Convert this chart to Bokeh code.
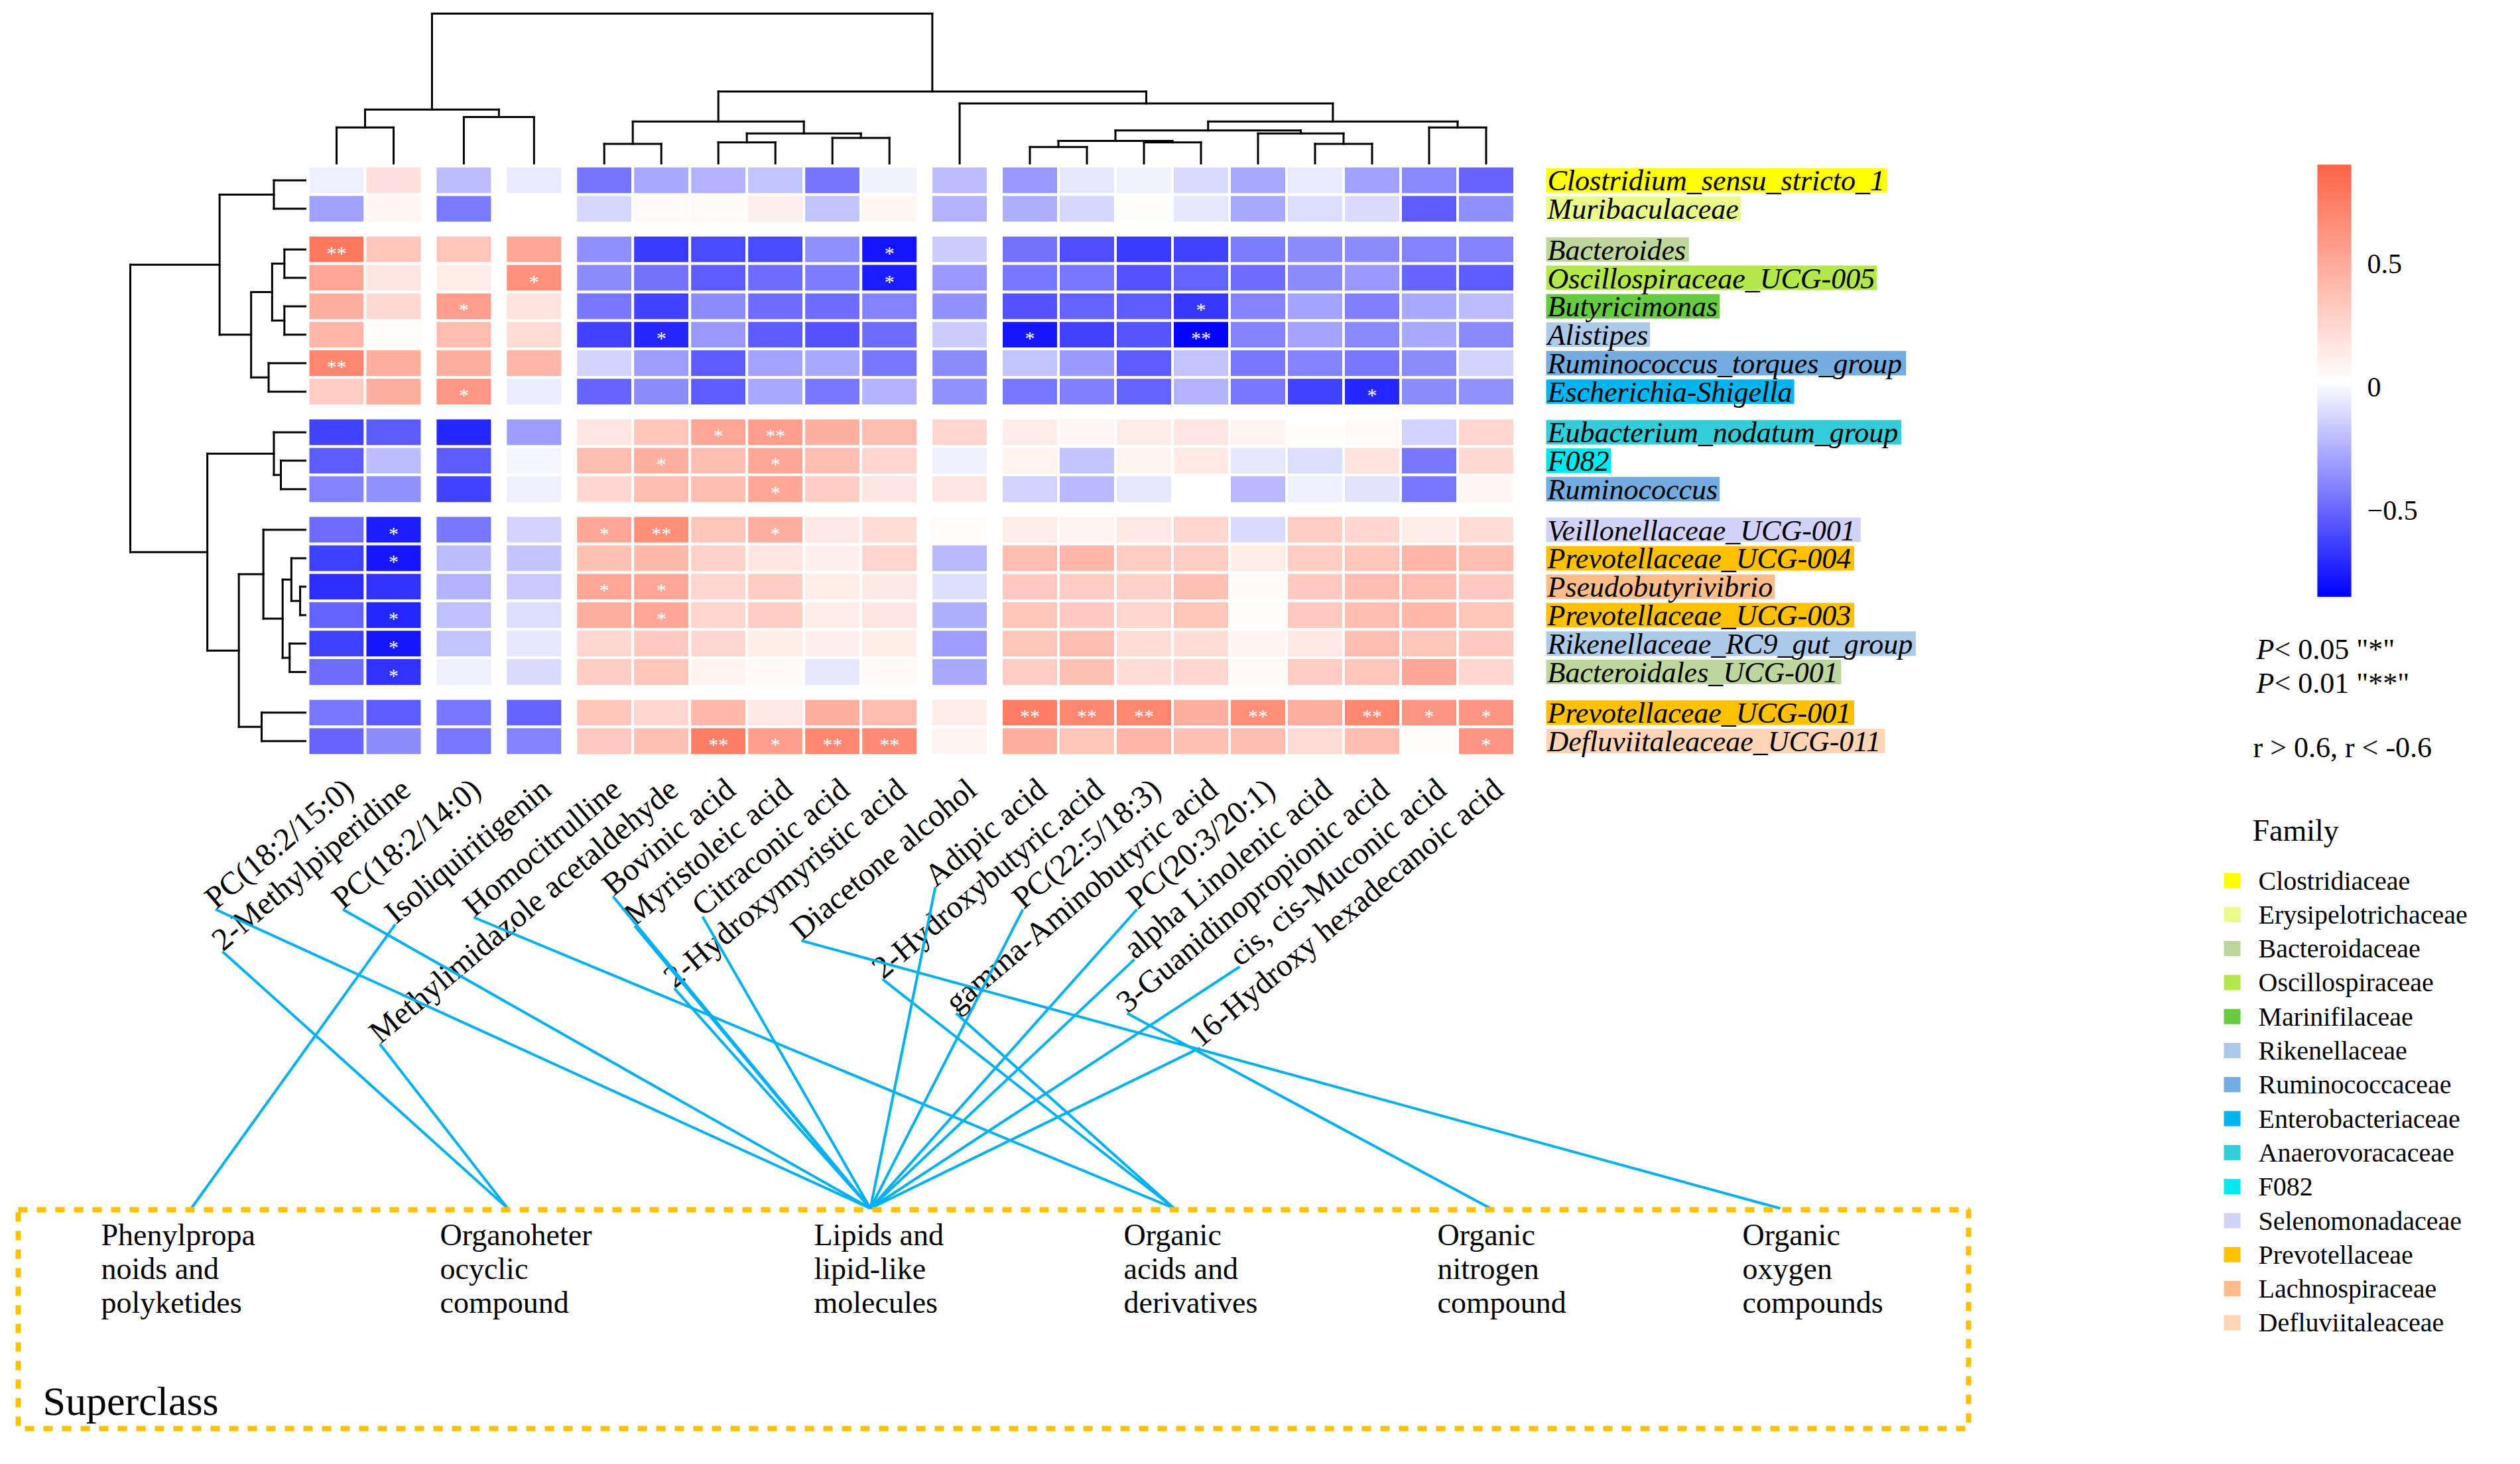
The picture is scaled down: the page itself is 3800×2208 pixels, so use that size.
import math
from bokeh.plotting import figure
from bokeh.models import Range1d
from bokeh.core.properties import value
from bokeh.embed import file_html
from bokeh.resources import INLINE

# ======================= DATA =======================
ROW_NAMES = ["Clostridium_sensu_stricto_1", "Muribaculaceae", "Bacteroides",
             "Oscillospiraceae_UCG-005", "Butyricimonas", "Alistipes",
             "Ruminococcus_torques_group", "Escherichia-Shigella",
             "Eubacterium_nodatum_group", "F082", "Ruminococcus",
             "Veillonellaceae_UCG-001", "Prevotellaceae_UCG-004", "Pseudobutyrivibrio",
             "Prevotellaceae_UCG-003", "Rikenellaceae_RC9_gut_group",
             "Bacteroidales_UCG-001", "Prevotellaceae_UCG-001", "Defluviitaleaceae_UCG-011"]

ROW_FAMILY = ["Clostridiaceae", "Erysipelotrichaceae", "Bacteroidaceae", "Oscillospiraceae",
              "Marinifilaceae", "Rikenellaceae", "Ruminococcaceae", "Enterobacteriaceae",
              "Anaerovoracaceae", "F082", "Ruminococcaceae", "Selenomonadaceae",
              "Prevotellaceae", "Lachnospiraceae", "Prevotellaceae", "Rikenellaceae",
              "Bacteroidaceae", "Prevotellaceae", "Defluviitaleaceae"]

COL_NAMES = ["PC(18:2/15:0)", "2-Methylpiperidine", "PC(18:2/14:0)", "Isoliquiritigenin",
             "Homocitrulline", "Methylimidazole acetaldehyde", "Bovinic acid",
             "Myristoleic acid", "Citraconic acid", "2-Hydroxymyristic acid",
             "Diacetone alcohol", "Adipic acid", "2-Hydroxybutyric.acid", "PC(22:5/18:3)",
             "gamma-Aminobutyric acid", "PC(20:3/20:1)", "alpha Linolenic acid",
             "3-Guanidinopropionic acid", "cis, cis-Muconic acid", "16-Hydroxy hexadecanoic acid"]

SUPERCLASSES = ["Phenylpropa\nnoids and\npolyketides", "Organoheter\nocyclic\ncompound",
                "Lipids and\nlipid-like\nmolecules", "Organic\nacids and\nderivatives",
                "Organic\nnitrogen\ncompound", "Organic\noxygen\ncompounds"]

# index into SUPERCLASSES for each column
COL_SUPERCLASS = [2, 1, 2, 0, 3, 1, 2, 2, 2, 2, 5, 2, 3, 2, 3, 2, 2, 4, 2, 2]

FAMILIES = ["Clostridiaceae", "Erysipelotrichaceae", "Bacteroidaceae", "Oscillospiraceae",
            "Marinifilaceae", "Rikenellaceae", "Ruminococcaceae", "Enterobacteriaceae",
            "Anaerovoracaceae", "F082", "Selenomonadaceae", "Prevotellaceae",
            "Lachnospiraceae", "Defluviitaleaceae"]
FAMILY_COLORS = ["#FFFF00", "#E9F98C", "#BDD69B", "#B2E84A", "#66CC40", "#ACCAE7",
                 "#74ACDF", "#00B6F0", "#33CDD9", "#00E8EF", "#D2D2F9", "#FFC000",
                 "#FFBC8B", "#FFD5B5"]

CORR = [
    [-0.03, 0.20, -0.20, -0.05, -0.45, -0.27, -0.24, -0.18, -0.45, -0.02, -0.20, -0.33, -0.06, -0.02, -0.10, -0.27, -0.05, -0.30, -0.38, -0.50],
    [-0.30, 0.08, -0.43, 0.03, -0.12, 0.06, 0.06, 0.12, -0.18, 0.08, -0.24, -0.25, -0.12, 0.04, -0.06, -0.27, -0.09, -0.10, -0.53, -0.36],
    [0.78, 0.35, 0.35, 0.52, -0.36, -0.65, -0.60, -0.60, -0.36, -0.78, -0.15, -0.46, -0.58, -0.65, -0.62, -0.42, -0.37, -0.37, -0.40, -0.40],
    [0.52, 0.17, 0.13, 0.65, -0.37, -0.46, -0.53, -0.48, -0.42, -0.75, -0.33, -0.44, -0.44, -0.57, -0.51, -0.48, -0.37, -0.33, -0.50, -0.53],
    [0.48, 0.24, 0.57, 0.19, -0.44, -0.62, -0.37, -0.48, -0.48, -0.40, -0.35, -0.57, -0.51, -0.53, -0.66, -0.40, -0.29, -0.41, -0.27, -0.20],
    [0.44, 0.04, 0.40, 0.22, -0.62, -0.72, -0.33, -0.53, -0.57, -0.48, -0.15, -0.77, -0.62, -0.56, -0.84, -0.40, -0.29, -0.38, -0.27, -0.38],
    [0.70, 0.48, 0.48, 0.44, -0.13, -0.31, -0.53, -0.29, -0.27, -0.44, -0.37, -0.18, -0.33, -0.53, -0.18, -0.44, -0.40, -0.44, -0.37, -0.13],
    [0.31, 0.48, 0.61, -0.04, -0.50, -0.37, -0.53, -0.27, -0.44, -0.24, -0.35, -0.44, -0.41, -0.51, -0.24, -0.44, -0.62, -0.72, -0.37, -0.35],
    [-0.62, -0.53, -0.72, -0.31, 0.17, 0.35, 0.52, 0.57, 0.48, 0.40, 0.26, 0.13, 0.07, 0.13, 0.17, 0.10, 0.04, 0.06, -0.13, 0.26],
    [-0.53, -0.20, -0.53, -0.01, 0.40, 0.48, 0.40, 0.52, 0.40, 0.26, -0.03, 0.10, -0.18, 0.09, 0.15, -0.06, -0.09, 0.19, -0.44, 0.24],
    [-0.40, -0.35, -0.62, -0.03, 0.25, 0.40, 0.40, 0.52, 0.31, 0.17, 0.17, -0.13, -0.22, -0.06, 0.03, -0.22, -0.03, -0.07, -0.44, 0.07],
    [-0.48, -0.75, -0.44, -0.13, 0.52, 0.66, 0.35, 0.48, 0.16, 0.22, 0.04, 0.13, 0.10, 0.16, 0.26, -0.10, 0.31, 0.25, 0.13, 0.22],
    [-0.63, -0.77, -0.20, -0.18, 0.37, 0.42, 0.28, 0.17, 0.11, 0.26, -0.22, 0.40, 0.44, 0.31, 0.31, 0.13, 0.31, 0.35, 0.44, 0.40],
    [-0.70, -0.68, -0.24, -0.16, 0.52, 0.52, 0.26, 0.31, 0.13, 0.16, -0.09, 0.33, 0.31, 0.28, 0.37, 0.06, 0.33, 0.40, 0.40, 0.33],
    [-0.51, -0.72, -0.19, -0.09, 0.48, 0.52, 0.26, 0.31, 0.13, 0.17, -0.25, 0.35, 0.33, 0.26, 0.35, 0.04, 0.33, 0.40, 0.42, 0.35],
    [-0.63, -0.77, -0.18, -0.06, 0.26, 0.33, 0.25, 0.13, 0.11, 0.13, -0.31, 0.35, 0.40, 0.22, 0.22, 0.10, 0.16, 0.40, 0.35, 0.33],
    [-0.48, -0.68, -0.03, -0.10, 0.31, 0.35, 0.09, 0.06, -0.06, 0.06, -0.27, 0.31, 0.37, 0.22, 0.26, 0.06, 0.31, 0.35, 0.52, 0.26],
    [-0.44, -0.53, -0.44, -0.51, 0.35, 0.26, 0.42, 0.16, 0.48, 0.40, 0.13, 0.75, 0.70, 0.70, 0.48, 0.66, 0.48, 0.70, 0.62, 0.62],
    [-0.50, -0.37, -0.44, -0.40, 0.33, 0.37, 0.75, 0.57, 0.70, 0.68, 0.10, 0.48, 0.35, 0.44, 0.37, 0.40, 0.22, 0.40, 0.04, 0.62],
]

# (row, column, mark)
SIGNIF = [(2, 0, "**"), (2, 9, "*"), (3, 3, "*"), (3, 9, "*"), (4, 2, "*"), (4, 14, "*"),
          (5, 5, "*"), (5, 11, "*"), (5, 14, "**"), (6, 0, "**"), (7, 2, "*"), (7, 17, "*"),
          (8, 6, "*"), (8, 7, "**"), (9, 5, "*"), (9, 7, "*"), (10, 7, "*"),
          (11, 1, "*"), (11, 4, "*"), (11, 5, "**"), (11, 7, "*"), (12, 1, "*"),
          (13, 4, "*"), (13, 5, "*"), (14, 1, "*"), (14, 5, "*"), (15, 1, "*"), (16, 1, "*"),
          (17, 11, "**"), (17, 12, "**"), (17, 13, "**"), (17, 15, "**"), (17, 17, "**"),
          (17, 18, "*"), (17, 19, "*"),
          (18, 6, "**"), (18, 7, "*"), (18, 8, "**"), (18, 9, "**"), (18, 19, "*")]

# hierarchical clustering trees: (left, right, relative height)
COL_TREE = (((0, 1, 0.24), (2, 3, 0.31), 0.36),
            (((4, 5, 0.13), ((6, 7, 0.14), (8, 9, 0.17), 0.20), 0.28),
             (10, ((((11, 12, 0.11), (13, 14, 0.14), 0.15), (15, (16, 17, 0.13), 0.20), 0.22),
                   (18, 19, 0.24), 0.28), 0.40), 0.48), 1.0)
ROW_TREE = (((0, 1, 0.18), (((2, 3, 0.12), (4, 5, 0.12), 0.19), (6, 7, 0.21), 0.31), 0.49),
            ((8, (9, 10, 0.14), 0.18),
             ((11, ((12, (13, 14, 0.03), 0.08), (15, 16, 0.09), 0.13), 0.24),
              (17, 18, 0.25), 0.38), 0.56), 1.0)

COL_SPLITS = [2, 3, 4, 10, 11]   # gaps after these many columns
ROW_SPLITS = [2, 8, 11, 17]      # gaps after these many rows
COLOR_LIMITS = (-0.85, 0.90)
COLORBAR_TICKS = [0.5, 0.0, -0.5]
COLORBAR_TICK_LABELS = ["0.5", "0", "\u22120.5"]

# ======================= LAYOUT =======================
FONT = "Liberation Serif"
HM_LEFT, HM_TOP = 472.0, 258.0
CELL_W, CELL_H = 86.0, 42.9
GAP_X, GAP_Y = 19.9, 18.4
CDEND_BOTTOM, CDEND_H = 254.0, 226.0
RDEND_RIGHT, RDEND_W = 468.0, 264.0
ROWLAB_X, ROWLAB_FS, ROWLAB_BOX_H = 2341.0, 44, 37.0
COLLAB_FS = 48
COLLAB_ANGLE = math.radians(40)
BOX_L, BOX_T, BOX_R, BOX_B = 35.0, 1832.0, 2976.0, 2162.0
SUPER_TEXT_X = [160, 671, 1235, 1702, 2175, 2635]
SUPER_LINK_X = [296, 773, 1320, 1778, 2255, 2692]
SUPER_LINK_Y = 1830.0
CB_L, CB_R, CB_ZERO_Y, CB_SCALE = 3502.0, 3553.0, 591.0, 372.0
LEG_SQ_L, LEG_SQ_R, LEG_TXT_X, LEG_Y0, LEG_DY = 3361.0, 3386.0, 3413.0, 1335.5, 51.3

# Times / Liberation Serif advance widths (per 1000 em)
TR = {' ': 250, '(': 333, ')': 333, ',': 250, '-': 333, '.': 250, '/': 278, ':': 278,
      '_': 500, '"': 408, '*': 500, '<': 564, '>': 564}
TR.update({d: 500 for d in '0123456789'})
TR.update(dict(zip('ABCDEFGHIJKLMNOPQRSTUVWXYZ',
                   [722, 667, 667, 722, 611, 556, 722, 722, 333, 389, 722, 611, 889, 722, 722,
                    556, 722, 667, 556, 611, 722, 722, 944, 722, 722, 611])))
TR.update(dict(zip('abcdefghijklmnopqrstuvwxyz',
                   [444, 500, 444, 500, 444, 333, 500, 500, 278, 278, 500, 278, 778, 500, 500,
                    500, 500, 333, 389, 278, 500, 500, 722, 500, 500, 444])))
TI = dict(TR)
TI.update(dict(zip('ABCDEFGHIJKLMNOPQRSTUVWXYZ',
                   [611, 611, 667, 722, 611, 611, 722, 722, 333, 444, 667, 556, 833, 667, 722,
                    611, 722, 611, 500, 556, 722, 611, 833, 611, 556, 556])))
TI.update(dict(zip('abcdefghijklmnopqrstuvwxyz',
                   [500, 500, 444, 500, 444, 278, 500, 500, 278, 278, 444, 278, 722, 500, 500,
                    500, 500, 389, 389, 278, 500, 444, 667, 444, 444, 389])))


def text_w(s, table, fs):
    return sum(table.get(ch, 500) for ch in s) * fs / 1000.0


def corr_color(v):
    lo, hi = COLOR_LIMITS
    mid = (lo + hi) / 2.0
    blue, white, red = (0, 0, 255), (255, 255, 255), (255, 99, 71)
    if v <= mid:
        t = min(max((v - lo) / (mid - lo), 0.0), 1.0)
        c = [b + (w - b) * t for b, w in zip(blue, white)]
    else:
        t = min(max((v - mid) / (hi - mid), 0.0), 1.0)
        c = [w + (r - w) * t for w, r in zip(white, red)]
    return "#%02x%02x%02x" % tuple(int(round(x)) for x in c)


def col_left(j):
    return HM_LEFT + j * CELL_W + GAP_X * sum(1 for s in COL_SPLITS if j >= s)


def row_top(i):
    return HM_TOP + i * CELL_H + GAP_Y * sum(1 for s in ROW_SPLITS if i >= s)


col_cx = [col_left(j) + CELL_W / 2 for j in range(len(COL_NAMES))]
row_cy = [row_top(i) + CELL_H / 2 for i in range(len(ROW_NAMES))]
HM_BOTTOM = row_top(len(ROW_NAMES) - 1) + CELL_H

# ======================= FIGURE =======================
W, H = 3784, 2192
p = figure(width=W, height=H, x_range=Range1d(8, 8 + W), y_range=Range1d(8 + H, 8),
           output_backend="svg", toolbar_location=None, min_border=0,
           x_axis_location=None, y_axis_location=None)
p.grid.visible = False
p.outline_line_color = None
p.background_fill_color = "white"
p.border_fill_color = "white"

# ---- heatmap cells ----
xs, ys, cols = [], [], []
for i, row in enumerate(CORR):
    for j, v in enumerate(row):
        xs.append(col_cx[j]); ys.append(row_cy[i]); cols.append(corr_color(v))
p.rect(x=xs, y=ys, width=CELL_W, height=CELL_H, fill_color=cols,
       line_color="white", line_width=4)

# ---- significance marks ----
p.text(x=[col_cx[c] for r, c, m in SIGNIF], y=[row_cy[r] + 5 for r, c, m in SIGNIF],
       text=[m for r, c, m in SIGNIF], text_color="white", text_font=value(FONT),
       text_font_size="30px", text_align="center", text_baseline="middle")


# ---- dendrograms ----
def tree_segments(node, leaf_pos, segs):
    if isinstance(node, int):
        return leaf_pos[node], 0.0
    l, r, h = node
    pl, hl = tree_segments(l, leaf_pos, segs)
    pr, hr = tree_segments(r, leaf_pos, segs)
    segs.append((pl, hl, pl, h))
    segs.append((pr, hr, pr, h))
    segs.append((pl, h, pr, h))
    return (pl + pr) / 2.0, h


cs = []
tree_segments(COL_TREE, col_cx, cs)
p.segment(x0=[s[0] for s in cs], y0=[CDEND_BOTTOM - s[1] * CDEND_H for s in cs],
          x1=[s[2] for s in cs], y1=[CDEND_BOTTOM - s[3] * CDEND_H for s in cs],
          line_color="black", line_width=3, line_cap="square")
rs = []
tree_segments(ROW_TREE, row_cy, rs)
p.segment(x0=[RDEND_RIGHT - s[1] * RDEND_W for s in rs], y0=[s[0] for s in rs],
          x1=[RDEND_RIGHT - s[3] * RDEND_W for s in rs], y1=[s[2] for s in rs],
          line_color="black", line_width=3, line_cap="square")

# ---- row labels with family highlight ----
fam_color = dict(zip(FAMILIES, FAMILY_COLORS))
rw = [text_w(n, TI, ROWLAB_FS) for n in ROW_NAMES]
p.quad(left=[ROWLAB_X - 2] * len(ROW_NAMES), right=[ROWLAB_X + w + 3 for w in rw],
       top=[y - ROWLAB_BOX_H / 2 for y in row_cy], bottom=[y + ROWLAB_BOX_H / 2 for y in row_cy],
       fill_color=[fam_color[f] for f in ROW_FAMILY], line_color=None)
p.text(x=[ROWLAB_X] * len(ROW_NAMES), y=[y + 1 for y in row_cy], text=ROW_NAMES,
       text_font=value(FONT), text_font_style="italic", text_font_size=f"{ROWLAB_FS}px",
       text_color="black", text_align="left", text_baseline="middle")

# ---- column labels ----
ca, sa = math.cos(COLLAB_ANGLE), math.sin(COLLAB_ANGLE)
ax = [x + 18 for x in col_cx]
ay = [HM_BOTTOM + 44] * len(COL_NAMES)
p.text(x=ax, y=ay, text=COL_NAMES, angle=COLLAB_ANGLE, text_font=value(FONT),
       text_font_size=f"{COLLAB_FS}px", text_color="black", text_align="right",
       text_baseline="middle")

# ---- links from metabolites to superclass ----
lx0, ly0, lx1, ly1 = [], [], [], []
for j, name in enumerate(COL_NAMES):
    L = text_w(name, TR, COLLAB_FS)
    sx = ax[j] - L * ca + 0.32 * COLLAB_FS * sa
    sy = ay[j] + L * sa + 0.32 * COLLAB_FS * ca
    k = COL_SUPERCLASS[j]
    lx0.append(sx); ly0.append(sy)
    lx1.append(SUPER_LINK_X[k]); ly1.append(SUPER_LINK_Y)
p.segment(x0=lx0, y0=ly0, x1=lx1, y1=ly1, line_color="#00B0F0", line_width=4)

# ---- superclass box ----
p.quad(left=[BOX_L], right=[BOX_R], top=[BOX_T], bottom=[BOX_B], fill_color=None,
       line_color="#FFC000", line_width=8, line_dash="14 14")
p.text(x=SUPER_TEXT_X, y=[BOX_T + 12] * len(SUPERCLASSES), text=SUPERCLASSES,
       text_font=value(FONT), text_font_size="46px", text_color="black",
       text_align="left", text_baseline="top", text_line_height=1.0)
p.text(x=[72], y=[2120], text=["Superclass"], text_font=value(FONT),
       text_font_size="62px", text_color="black", text_align="left",
       text_baseline="alphabetic")

# ---- colour bar ----
lo, hi = COLOR_LIMITS
N = 240
vals = [lo + (hi - lo) * (k + 0.5) / N for k in range(N)]
step = (hi - lo) / N
p.quad(left=[CB_L] * N, right=[CB_R] * N,
       top=[CB_ZERO_Y - (v + step / 2) * CB_SCALE - 0.5 for v in vals],
       bottom=[CB_ZERO_Y - (v - step / 2) * CB_SCALE + 0.5 for v in vals],
       fill_color=[corr_color(v) for v in vals], line_color=None)
p.text(x=[3577] * 3, y=[CB_ZERO_Y - t * CB_SCALE for t in COLORBAR_TICKS],
       text=COLORBAR_TICK_LABELS, text_font=value(FONT), text_font_size="42px",
       text_color="black", text_align="left", text_baseline="middle")

# ---- significance legend ----
PFS = 44
p.text(x=[3410, 3410], y=[987, 1038], text=["P", "P"], text_font=value(FONT),
       text_font_style="italic", text_font_size=f"{PFS}px", text_color="black",
       text_baseline="middle")
pw = text_w("P", TI, PFS)
p.text(x=[3410 + pw, 3410 + pw], y=[987, 1038],
       text=[' < 0.05  "*"', ' < 0.01  "**"'], text_font=value(FONT),
       text_font_size=f"{PFS}px", text_color="black", text_baseline="middle")
p.text(x=[3405], y=[1135], text=["r > 0.6, r < -0.6"], text_font=value(FONT),
       text_font_size=f"{PFS}px", text_color="black", text_baseline="middle")

# ---- family legend ----
p.text(x=[3404], y=[1260], text=["Family"], text_font=value(FONT), text_font_size="46px",
       text_color="black", text_baseline="middle")
ly = [LEG_Y0 + k * LEG_DY for k in range(len(FAMILIES))]
p.quad(left=[LEG_SQ_L] * len(FAMILIES), right=[LEG_SQ_R] * len(FAMILIES),
       top=[y - 11.5 for y in ly], bottom=[y + 11.5 for y in ly],
       fill_color=FAMILY_COLORS, line_color=None)
p.text(x=[LEG_TXT_X] * len(FAMILIES), y=ly, text=FAMILIES, text_font=value(FONT),
       text_font_size="40px", text_color="black", text_baseline="middle")

open("out.html", "w").write(file_html(p, INLINE))
